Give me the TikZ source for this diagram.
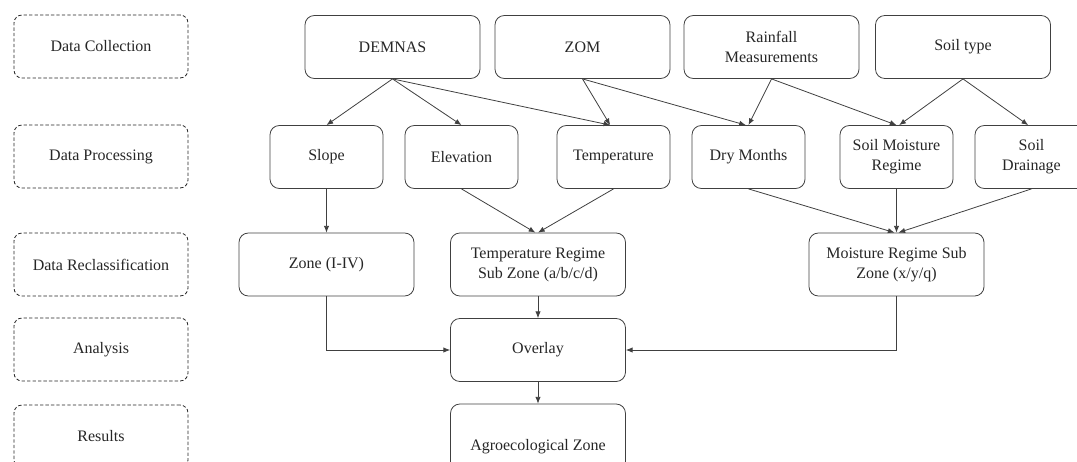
\documentclass[tikz,border=0pt]{standalone}
\usepackage{fontspec}
\setmainfont{Liberation Serif}
\usetikzlibrary{arrows.meta}
\tikzset{
  stage/.style={draw=black!85,line width=0.6pt,dash pattern=on 2.5pt off 1.6pt,rounded corners=6pt,
    minimum width=130.5pt,minimum height=47.25pt,align=center,text=black!85},
  wbox/.style={draw=black!75,line width=0.6pt,rounded corners=7pt,
    minimum width=131.25pt,minimum height=47.25pt,align=center,text=black!85},
  nbox/.style={draw=black!75,line width=0.6pt,rounded corners=7pt,
    minimum width=84.75pt,minimum height=47.25pt,align=center,text=black!85},
  link/.style={draw=black!75,line width=0.6pt,-{Latex[length=5pt,width=4pt]}}
}
\begin{document}
\begin{tikzpicture}[x=0.75pt,y=-0.75pt,font=\fontsize{12}{15}\selectfont]
\useasboundingbox (0,0) rectangle (1077,461);
\clip (0,0) rectangle (1077,461);
% stages
\node[stage] (sColl) at (101,46.5) {Data Collection};
\node[stage] (sProc) at (101,156.5) {Data Processing};
\node[stage] (sRecl) at (101,264.5) {Data Reclassification};
\node[stage] (sAnal) at (101,349.5) {Analysis};
\node[stage] (sRes) at (101,436.5) {Results};
% data collection
\node[wbox] (demnas) at (392.5,47) {DEMNAS};
\node[wbox] (zom) at (582.5,47) {ZOM};
\node[wbox] (rain) at (771.5,47) {Rainfall\\Measurements};
\node[wbox] (soil) at (963,47) {Soil type};
% data processing
\node[nbox] (slope) at (326.5,157) {Slope};
\node[nbox] (elev) at (461.5,157) {Elevation};
\node[nbox] (temp) at (613.5,157) {Temperature};
\node[nbox] (dry) at (748.5,157) {Dry Months};
\node[nbox] (smr) at (896.5,157) {Soil Moisture\\Regime};
\node[nbox] (drain) at (1031.5,157) {Soil\\Drainage};
% reclassification
\node[wbox] (zone) at (326.5,264.5) {Zone (I-IV)};
\node[wbox] (treg) at (538,264.5) {Temperature Regime\\Sub Zone (a/b/c/d)};
\node[wbox] (mreg) at (896.5,264.5) {Moisture Regime Sub\\Zone (x/y/q)};
% analysis and results
\node[wbox] (overlay) at (538,350) {Overlay};
\node[wbox,minimum height=64.5pt] (agro) at (538,447) {Agroecological Zone};
% connectors
\draw[link] (demnas.south) -- (slope.north);
\draw[link] (demnas.south) -- (elev.north);
\draw[link] (demnas.south) -- ([xshift=-2.5pt]temp.north);
\draw[link] (zom.south) -- ([xshift=-2.5pt]temp.north);
\draw[link] (zom.south) -- ([xshift=-2pt]dry.north);
\draw[link] (rain.south) -- (dry.north);
\draw[link] (rain.south) -- (smr.north);
\draw[link] (soil.south) -- ([xshift=2pt]smr.north);
\draw[link] (soil.south) -- ([xshift=-2.5pt]drain.north);
\draw[link] (slope.south) -- (zone.north);
\draw[link] (elev.south) -- ([xshift=-2pt]treg.north);
\draw[link] (temp.south) -- (treg.north);
\draw[link] (dry.south) -- ([xshift=-1.5pt]mreg.north);
\draw[link] (smr.south) -- (mreg.north);
\draw[link] (drain.south) -- ([xshift=1.5pt]mreg.north);
\draw[link] (zone.south) |- (overlay.west);
\draw[link] (treg.south) -- (overlay.north);
\draw[link] (mreg.south) |- (overlay.east);
\draw[link] (overlay.south) -- (agro.north);
\end{tikzpicture}
\end{document}
